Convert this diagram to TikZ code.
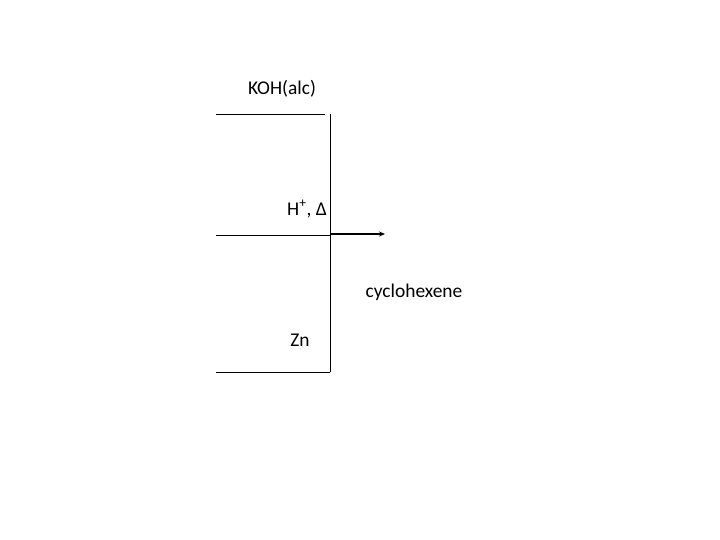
\documentclass[tikz,border=0pt]{standalone}
\usepackage{fontspec}
\setmainfont{Carlito}
\usetikzlibrary{arrows.meta}

\begin{document}
\begin{tikzpicture}[x=1bp,y=-1bp,
    rxn/.style={line width=0.75bp},
    lbl/.style={font=\fontsize{19.5}{22}\selectfont, inner sep=0pt}]
    \useasboundingbox (0,0) rectangle (720,540);
    % reagents
    \node[lbl] (koh) at (282,89) {KOH(alc)};
    \node[lbl] (acid) at (307,209) {H\textsuperscript{+}, Δ};
    \node[lbl] (zn) at (300,340) {Zn};
    \node[lbl] (prod) at (414,292) {cyclohexene};
    % bracket lines
    \coordinate (tl) at (216,114);
    \coordinate (tr) at (325,114);
    \coordinate (vt) at (330,114);
    \coordinate (ml) at (216,235);
    \coordinate (mr) at (330,235);
    \coordinate (bl) at (216,372);
    \coordinate (vb) at (330,372);
    \coordinate (tip) at (385,234);
    \draw[rxn] (tl) -- (tr);
    \draw[rxn] (vt) -- (vb);
    \draw[rxn] (ml) -- (mr);
    \draw[rxn] (bl) -- (vb);
    \draw[line width=1.5bp, -{Stealth[length=6bp,width=5bp]}] (mr |- tip) -- (tip);
\end{tikzpicture}
\end{document}
